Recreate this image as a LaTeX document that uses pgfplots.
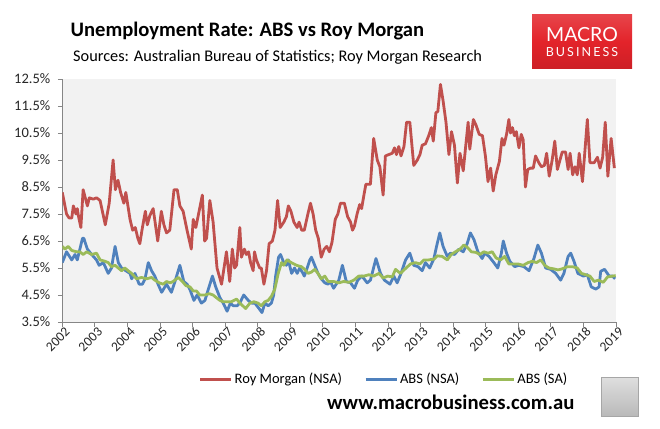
\documentclass[border=0pt]{standalone}
\usepackage{fontspec}
\setmainfont{Carlito}
\newfontfamily\logofont{Lato}
\usepackage{pgfplots}
\pgfplotsset{compat=1.18}
\definecolor{rmred}{HTML}{C0504D}
\definecolor{absblue}{HTML}{4F81BD}
\definecolor{absgreen}{HTML}{9BBB59}
\definecolor{axgray}{HTML}{868686}
\definecolor{plotbg}{HTML}{F2F2F2}
\definecolor{logored}{HTML}{E3232A}

\pgfplotstableread{
x y
2002.00 8.3
2002.13 7.5
2002.21 7.35
2002.29 7.35
2002.34 7.8
2002.42 7.5
2002.46 7.7
2002.50 7.4
2002.57 7.0
2002.64 8.4
2002.77 7.8
2002.83 8.1
2002.95 8.05
2003.05 8.1
2003.16 8.0
2003.32 7.1
2003.44 7.9
2003.56 9.5
2003.63 8.4
2003.71 8.75
2003.79 8.3
2003.89 7.9
2003.95 8.3
2004.08 7.3
2004.16 6.9
2004.24 7.0
2004.32 6.6
2004.38 6.4
2004.46 7.0
2004.55 7.6
2004.61 7.1
2004.69 7.45
2004.79 7.7
2004.93 6.5
2005.04 7.6
2005.12 7.1
2005.20 6.8
2005.30 6.9
2005.43 8.4
2005.53 8.4
2005.61 7.8
2005.71 7.6
2005.83 6.9
2005.96 6.2
2006.02 7.3
2006.10 7.0
2006.30 8.2
2006.37 6.5
2006.43 6.6
2006.53 8.0
2006.63 7.2
2006.75 5.5
2006.89 4.9
2007.04 6.1
2007.14 5.0
2007.22 6.2
2007.29 5.5
2007.35 5.6
2007.45 7.0
2007.50 5.9
2007.59 6.2
2007.65 6.0
2007.72 6.1
2007.78 5.7
2007.86 5.4
2007.90 6.1
2007.96 5.8
2008.06 5.5
2008.11 5.5
2008.19 4.9
2008.27 5.4
2008.35 6.4
2008.45 6.5
2008.53 6.9
2008.61 8.0
2008.69 7.0
2008.80 7.2
2008.88 7.4
2008.94 7.8
2009.02 7.6
2009.11 7.2
2009.21 7.0
2009.27 7.2
2009.35 6.9
2009.43 6.9
2009.54 7.5
2009.62 7.9
2009.70 7.5
2009.78 6.9
2009.86 6.6
2009.95 5.9
2010.04 6.2
2010.12 6.3
2010.20 6.1
2010.28 6.45
2010.38 7.3
2010.46 7.5
2010.54 7.9
2010.66 7.9
2010.76 7.4
2010.85 7.2
2010.91 6.9
2010.97 7.05
2011.05 7.5
2011.13 7.85
2011.19 7.7
2011.26 8.2
2011.32 8.6
2011.46 8.6
2011.56 10.3
2011.67 9.5
2011.75 9.25
2011.85 8.2
2011.92 9.65
2012.02 9.7
2012.13 9.75
2012.20 9.95
2012.26 9.7
2012.33 10.0
2012.40 9.65
2012.49 10.0
2012.57 10.9
2012.67 10.9
2012.79 9.3
2012.90 9.5
2012.98 9.7
2013.05 10.05
2013.15 10.1
2013.25 10.4
2013.33 10.7
2013.39 10.2
2013.47 11.25
2013.53 11.3
2013.61 12.3
2013.69 11.7
2013.78 10.9
2013.87 9.7
2013.95 10.55
2014.04 10.05
2014.13 8.65
2014.21 9.75
2014.31 9.1
2014.38 9.95
2014.46 10.9
2014.51 9.9
2014.62 11.0
2014.70 10.8
2014.80 10.45
2014.90 10.4
2014.99 9.65
2015.07 8.7
2015.15 9.2
2015.23 8.35
2015.31 8.95
2015.42 9.45
2015.50 10.3
2015.56 10.05
2015.64 10.45
2015.71 11.0
2015.76 10.5
2015.82 10.7
2015.88 10.4
2015.94 10.55
2016.02 9.95
2016.09 10.45
2016.15 10.25
2016.22 8.5
2016.29 9.15
2016.38 9.2
2016.46 9.2
2016.53 9.65
2016.63 9.4
2016.71 9.25
2016.80 9.3
2016.87 9.75
2016.95 8.9
2017.04 9.5
2017.12 10.2
2017.20 9.15
2017.28 9.5
2017.35 9.8
2017.45 9.8
2017.53 9.15
2017.59 9.75
2017.67 8.95
2017.74 9.25
2017.81 8.95
2017.87 9.75
2017.97 8.7
2018.04 9.75
2018.12 11.0
2018.20 9.4
2018.33 9.4
2018.43 9.6
2018.51 9.2
2018.59 9.6
2018.67 10.9
2018.75 8.9
2018.85 10.3
2018.95 9.2
}\rmdata

\pgfplotstableread{
x y
2002.00 5.7
2002.13 6.1
2002.29 5.8
2002.39 6.0
2002.46 5.8
2002.62 6.6
2002.66 6.6
2002.77 6.2
2002.90 6.0
2003.05 5.8
2003.13 5.6
2003.26 5.7
2003.41 5.3
2003.51 5.5
2003.62 6.3
2003.72 5.7
2003.82 5.5
2003.95 5.4
2004.08 5.3
2004.13 5.1
2004.23 5.3
2004.36 4.9
2004.46 4.9
2004.54 5.1
2004.64 5.7
2004.74 5.4
2004.84 5.2
2004.94 4.9
2005.05 4.6
2005.15 4.8
2005.20 4.9
2005.35 4.6
2005.46 5.0
2005.61 5.6
2005.73 5.0
2005.83 4.9
2005.92 4.7
2006.04 4.3
2006.14 4.5
2006.27 4.2
2006.38 4.3
2006.48 4.7
2006.61 5.2
2006.71 4.8
2006.84 4.4
2006.94 4.2
2007.06 3.9
2007.16 4.2
2007.25 4.1
2007.37 4.1
2007.45 4.2
2007.57 4.5
2007.71 4.3
2007.81 4.2
2007.91 4.2
2008.04 4.0
2008.13 3.85
2008.22 4.2
2008.32 4.1
2008.42 4.2
2008.49 4.5
2008.55 5.2
2008.64 5.9
2008.70 6.0
2008.80 5.7
2008.88 5.6
2008.94 5.8
2009.04 5.3
2009.13 5.5
2009.21 5.3
2009.29 5.5
2009.39 5.3
2009.43 5.2
2009.49 5.4
2009.60 5.8
2009.65 5.9
2009.75 5.6
2009.85 5.3
2009.95 5.1
2010.06 4.95
2010.16 4.9
2010.23 5.0
2010.33 4.75
2010.49 5.05
2010.60 5.6
2010.72 5.0
2010.85 4.95
2010.97 4.75
2011.07 5.05
2011.20 5.2
2011.36 4.95
2011.46 5.05
2011.63 5.85
2011.77 5.3
2011.89 5.05
2012.06 4.9
2012.18 5.2
2012.28 4.95
2012.40 5.3
2012.54 5.8
2012.67 6.05
2012.79 5.6
2012.92 5.55
2013.05 5.4
2013.15 5.7
2013.28 5.5
2013.41 5.85
2013.49 6.3
2013.59 6.8
2013.69 6.3
2013.82 5.93
2013.92 6.05
2014.04 6.0
2014.18 6.2
2014.31 6.1
2014.43 6.4
2014.53 6.8
2014.64 6.55
2014.76 6.1
2014.89 5.85
2014.97 6.05
2015.10 5.93
2015.25 5.7
2015.37 5.5
2015.48 6.05
2015.54 6.5
2015.64 6.05
2015.74 5.75
2015.89 5.55
2016.02 5.6
2016.17 5.55
2016.33 5.4
2016.48 5.85
2016.60 6.35
2016.71 6.05
2016.84 5.5
2016.99 5.45
2017.15 5.3
2017.30 5.05
2017.40 5.3
2017.53 5.93
2017.61 6.05
2017.71 5.75
2017.83 5.3
2018.00 5.2
2018.12 5.25
2018.24 4.8
2018.38 4.72
2018.48 4.8
2018.53 5.38
2018.65 5.45
2018.79 5.2
2018.89 5.2
2018.97 5.1
}\absnsa

\pgfplotstableread{
x y
2002.00 6.3
2002.08 6.2
2002.18 6.3
2002.29 6.15
2002.44 6.1
2002.54 6.1
2002.64 6.0
2002.75 6.1
2002.90 6.0
2003.05 6.05
2003.16 5.8
2003.31 5.75
2003.41 5.7
2003.51 5.55
2003.62 5.6
2003.72 5.5
2003.82 5.4
2003.92 5.5
2004.02 5.4
2004.13 5.3
2004.28 5.1
2004.43 5.15
2004.59 5.1
2004.74 5.15
2004.84 5.05
2004.98 4.95
2005.10 4.9
2005.20 5.0
2005.32 4.95
2005.40 5.0
2005.56 5.15
2005.69 5.0
2005.79 4.85
2005.92 4.8
2006.02 4.65
2006.12 4.65
2006.22 4.5
2006.38 4.5
2006.51 4.55
2006.63 4.5
2006.73 4.4
2006.84 4.3
2006.94 4.25
2007.09 4.25
2007.19 4.25
2007.35 4.35
2007.45 4.2
2007.63 4.0
2007.76 4.2
2007.88 4.25
2008.01 4.2
2008.11 4.1
2008.22 4.25
2008.32 4.3
2008.42 4.45
2008.52 4.7
2008.63 5.3
2008.73 5.7
2008.80 5.6
2008.90 5.8
2009.03 5.7
2009.19 5.6
2009.34 5.55
2009.44 5.45
2009.55 5.3
2009.65 5.35
2009.75 5.45
2009.85 5.3
2009.95 5.1
2010.06 5.2
2010.16 5.0
2010.33 5.0
2010.49 4.95
2010.64 5.0
2010.80 4.97
2010.95 5.05
2011.10 5.2
2011.26 5.2
2011.41 5.25
2011.56 5.2
2011.72 5.3
2011.85 5.13
2011.99 5.2
2012.13 5.17
2012.23 5.45
2012.38 5.3
2012.51 5.45
2012.69 5.65
2012.84 5.7
2012.98 5.65
2013.10 5.8
2013.25 5.8
2013.41 5.83
2013.51 5.95
2013.66 5.93
2013.82 5.8
2013.94 6.0
2014.07 6.1
2014.21 6.2
2014.33 6.35
2014.45 6.25
2014.56 6.1
2014.69 6.08
2014.82 6.0
2014.94 6.1
2015.07 6.05
2015.20 6.1
2015.32 5.87
2015.46 5.8
2015.58 5.93
2015.71 5.65
2015.85 5.65
2015.99 5.65
2016.15 5.6
2016.30 5.7
2016.43 5.75
2016.56 5.7
2016.69 5.8
2016.81 5.6
2016.94 5.5
2017.08 5.47
2017.22 5.43
2017.35 5.47
2017.51 5.55
2017.66 5.55
2017.81 5.5
2017.94 5.3
2018.07 5.25
2018.20 5.2
2018.33 5.0
2018.46 5.05
2018.61 4.97
2018.74 5.17
2018.89 5.2
2018.99 5.22
}\abssa

\begin{document}
\begin{tikzpicture}[x=1pt,y=1pt]
\useasboundingbox (0,0) rectangle (660,428);
\begin{axis}[
  at={(62.3pt,106pt)}, anchor=south west,
  scale only axis, width=553.7pt, height=243pt,
  xmin=2002, xmax=2019, ymin=3.5, ymax=12.5,
  axis background/.style={fill=plotbg},
  axis x line*=bottom, axis y line*=left,
  axis line style={axgray, line width=0.8pt},
  xtick={2002,2003,...,2019},
  ytick={3.5,4.5,...,12.5},
  tick align=outside, major tick length=4.5pt,
  tick style={axgray, line width=0.8pt},
  xticklabel={\pgfmathprintnumber[assume math mode=true,1000 sep={}]{\tick}},
  yticklabel={\pgfmathprintnumber[assume math mode=true,fixed,fixed zerofill,precision=1]{\tick}\%},
  xticklabel style={rotate=45, anchor=east, font=\fontsize{13.5}{13.5}\selectfont, inner sep=0.5pt, xshift=2pt, yshift=-6pt, text=black!85},
  yticklabel style={font=\fontsize{14.5}{14.5}\selectfont, anchor=east, xshift=-4pt, text=black!85},
  legend columns=3,
  legend style={at={(0.581,-0.235)}, anchor=center, draw=none, fill=none,
    font=\fontsize{14.5}{14.5}\selectfont, inner sep=0pt,
    /tikz/every even column/.append style={column sep=20pt}},
  legend cell align=left,
  legend image code/.code={\draw[#1, line width=3pt] (0pt,0pt) -- (31pt,0pt);},
  every axis plot/.append style={line width=2.8pt, line join=round, no markers},
  clip=true,
]
\addplot[rmred] table[x=x,y=y] {\rmdata};
\addlegendentry{Roy Morgan (NSA)}
\addplot[absblue] table[x=x,y=y] {\absnsa};
\addlegendentry{ABS (NSA)}
\addplot[absgreen] table[x=x,y=y] {\abssa};
\addlegendentry{ABS (SA)}
\end{axis}
% titles
\node[anchor=base west, inner sep=0pt, font=\bfseries\fontsize{20.6}{20.6}\selectfont] at (70.5,391) {Unemployment Rate: ABS vs Roy Morgan};
\node[anchor=base west, inner sep=0pt, font=\fontsize{16.3}{16.3}\selectfont] at (73,366) {Sources: Australian Bureau of Statistics; Roy Morgan Research};
% logo
\shade[top color=logored!85!white, bottom color=logored!90!black, middle color=logored] (532,359) rectangle (632,413);
\node[text=white, inner sep=0pt, font=\logofont\fontsize{19.5}{19.5}\selectfont] at (582,393) {MACRO};
\node[text=white, inner sep=0pt, font=\logofont\fontsize{12.5}{12.5}\selectfont] at (582,376) {B\,U\,S\,I\,N\,E\,S\,S};
% website
\node[anchor=base west, inner sep=0pt, font=\bfseries\fontsize{20.7}{20.7}\selectfont] at (327,19) {www.macrobusiness.com.au};
% wolf picture placeholder
\shade[top color=gray!25, bottom color=gray!55] (601,12) rectangle (638,51);
\draw[gray!70, line width=1pt] (601,12) rectangle (638,51);
\end{tikzpicture}
\end{document}
